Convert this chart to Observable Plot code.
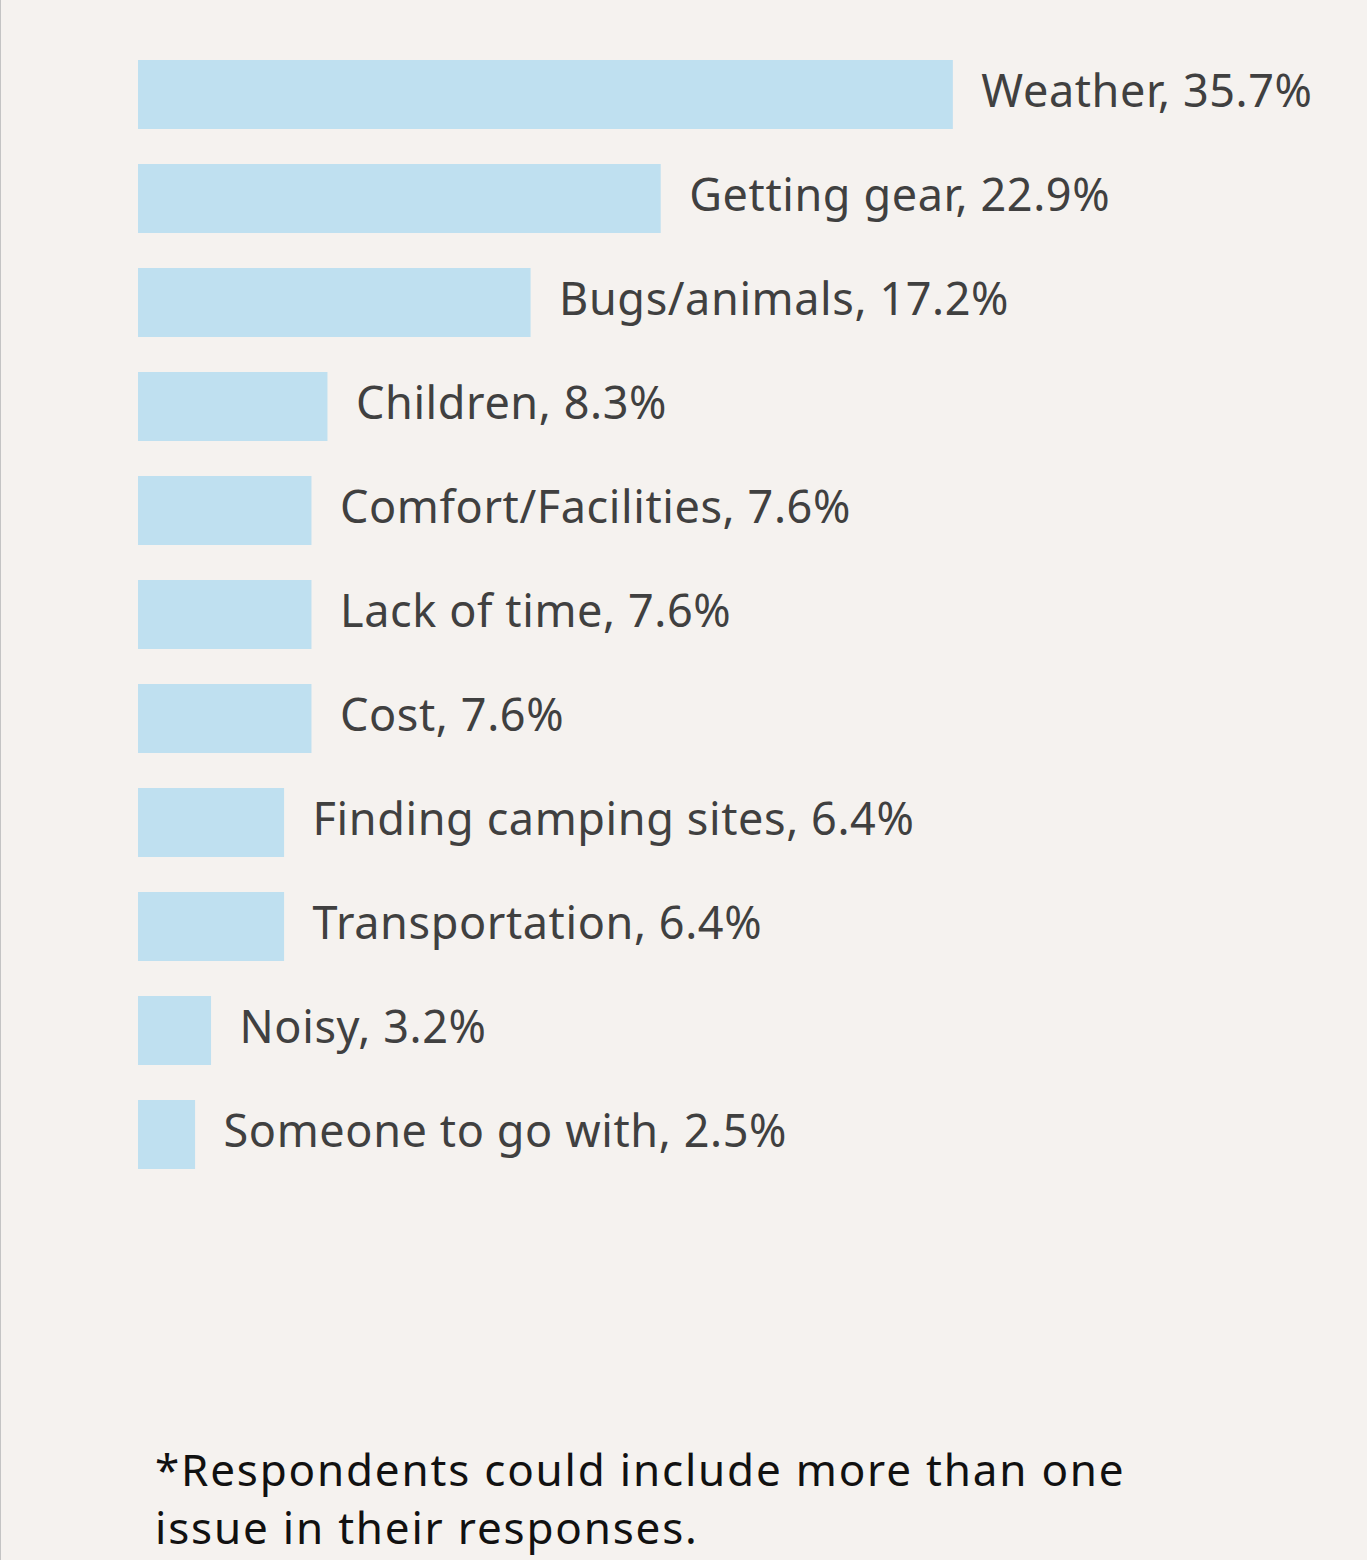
<!DOCTYPE html>
<html><head><meta charset="utf-8">
<script src="https://cdn.jsdelivr.net/npm/d3@7"></script>
<script src="https://cdn.jsdelivr.net/npm/@observablehq/plot@0.6"></script>
<style>
html,body{margin:0;background:#f5f2ef;}
#wrap{width:1366px;height:1560px;border-left:1px solid #c4c4c4;position:relative;overflow:hidden;}
#note{position:absolute;left:154px;top:1440px;font-family:"Noto Sans","Open Sans",sans-serif;font-size:44px;line-height:58px;color:#111;letter-spacing:1.8px;}
</style></head><body>
<div id="wrap"><div id="chart"></div>
<div id="note">*Respondents could include more than one<br>issue in their responses.</div></div>
<script>
const categories = ["Weather","Getting gear","Bugs/animals","Children","Comfort/Facilities","Lack of time","Cost","Finding camping sites","Transportation","Noisy","Someone to go with"];
const values = [35.7,22.9,17.2,8.3,7.6,7.6,7.6,6.4,6.4,3.2,2.5];
const data = categories.map((c,i)=>({c,v:values[i]}));
const chart = Plot.plot({
  width:1366, height:1230, marginTop:39, marginBottom:41, marginLeft:137, marginRight:316,
  style:{background:"transparent", fontFamily:"'Noto Sans','Open Sans',sans-serif"},
  x:{domain:[0,40], axis:null},
  y:{domain:categories, axis:null, paddingInner:0.34, paddingOuter:0.17},
  marks:[
    Plot.barX(data,{x:"v", y:"c", fill:"#bfe0f0"}),
    Plot.text(data,{x:"v", y:"c", text:d=>`${d.c}, ${d.v}%`, textAnchor:"start", dx:28, fontSize:45, fill:"#404040", dy:-2})
  ]
});
chart.querySelectorAll("text").forEach(t=>t.style.letterSpacing="0.6px");
document.getElementById("chart").appendChild(chart);
</script></body></html>
